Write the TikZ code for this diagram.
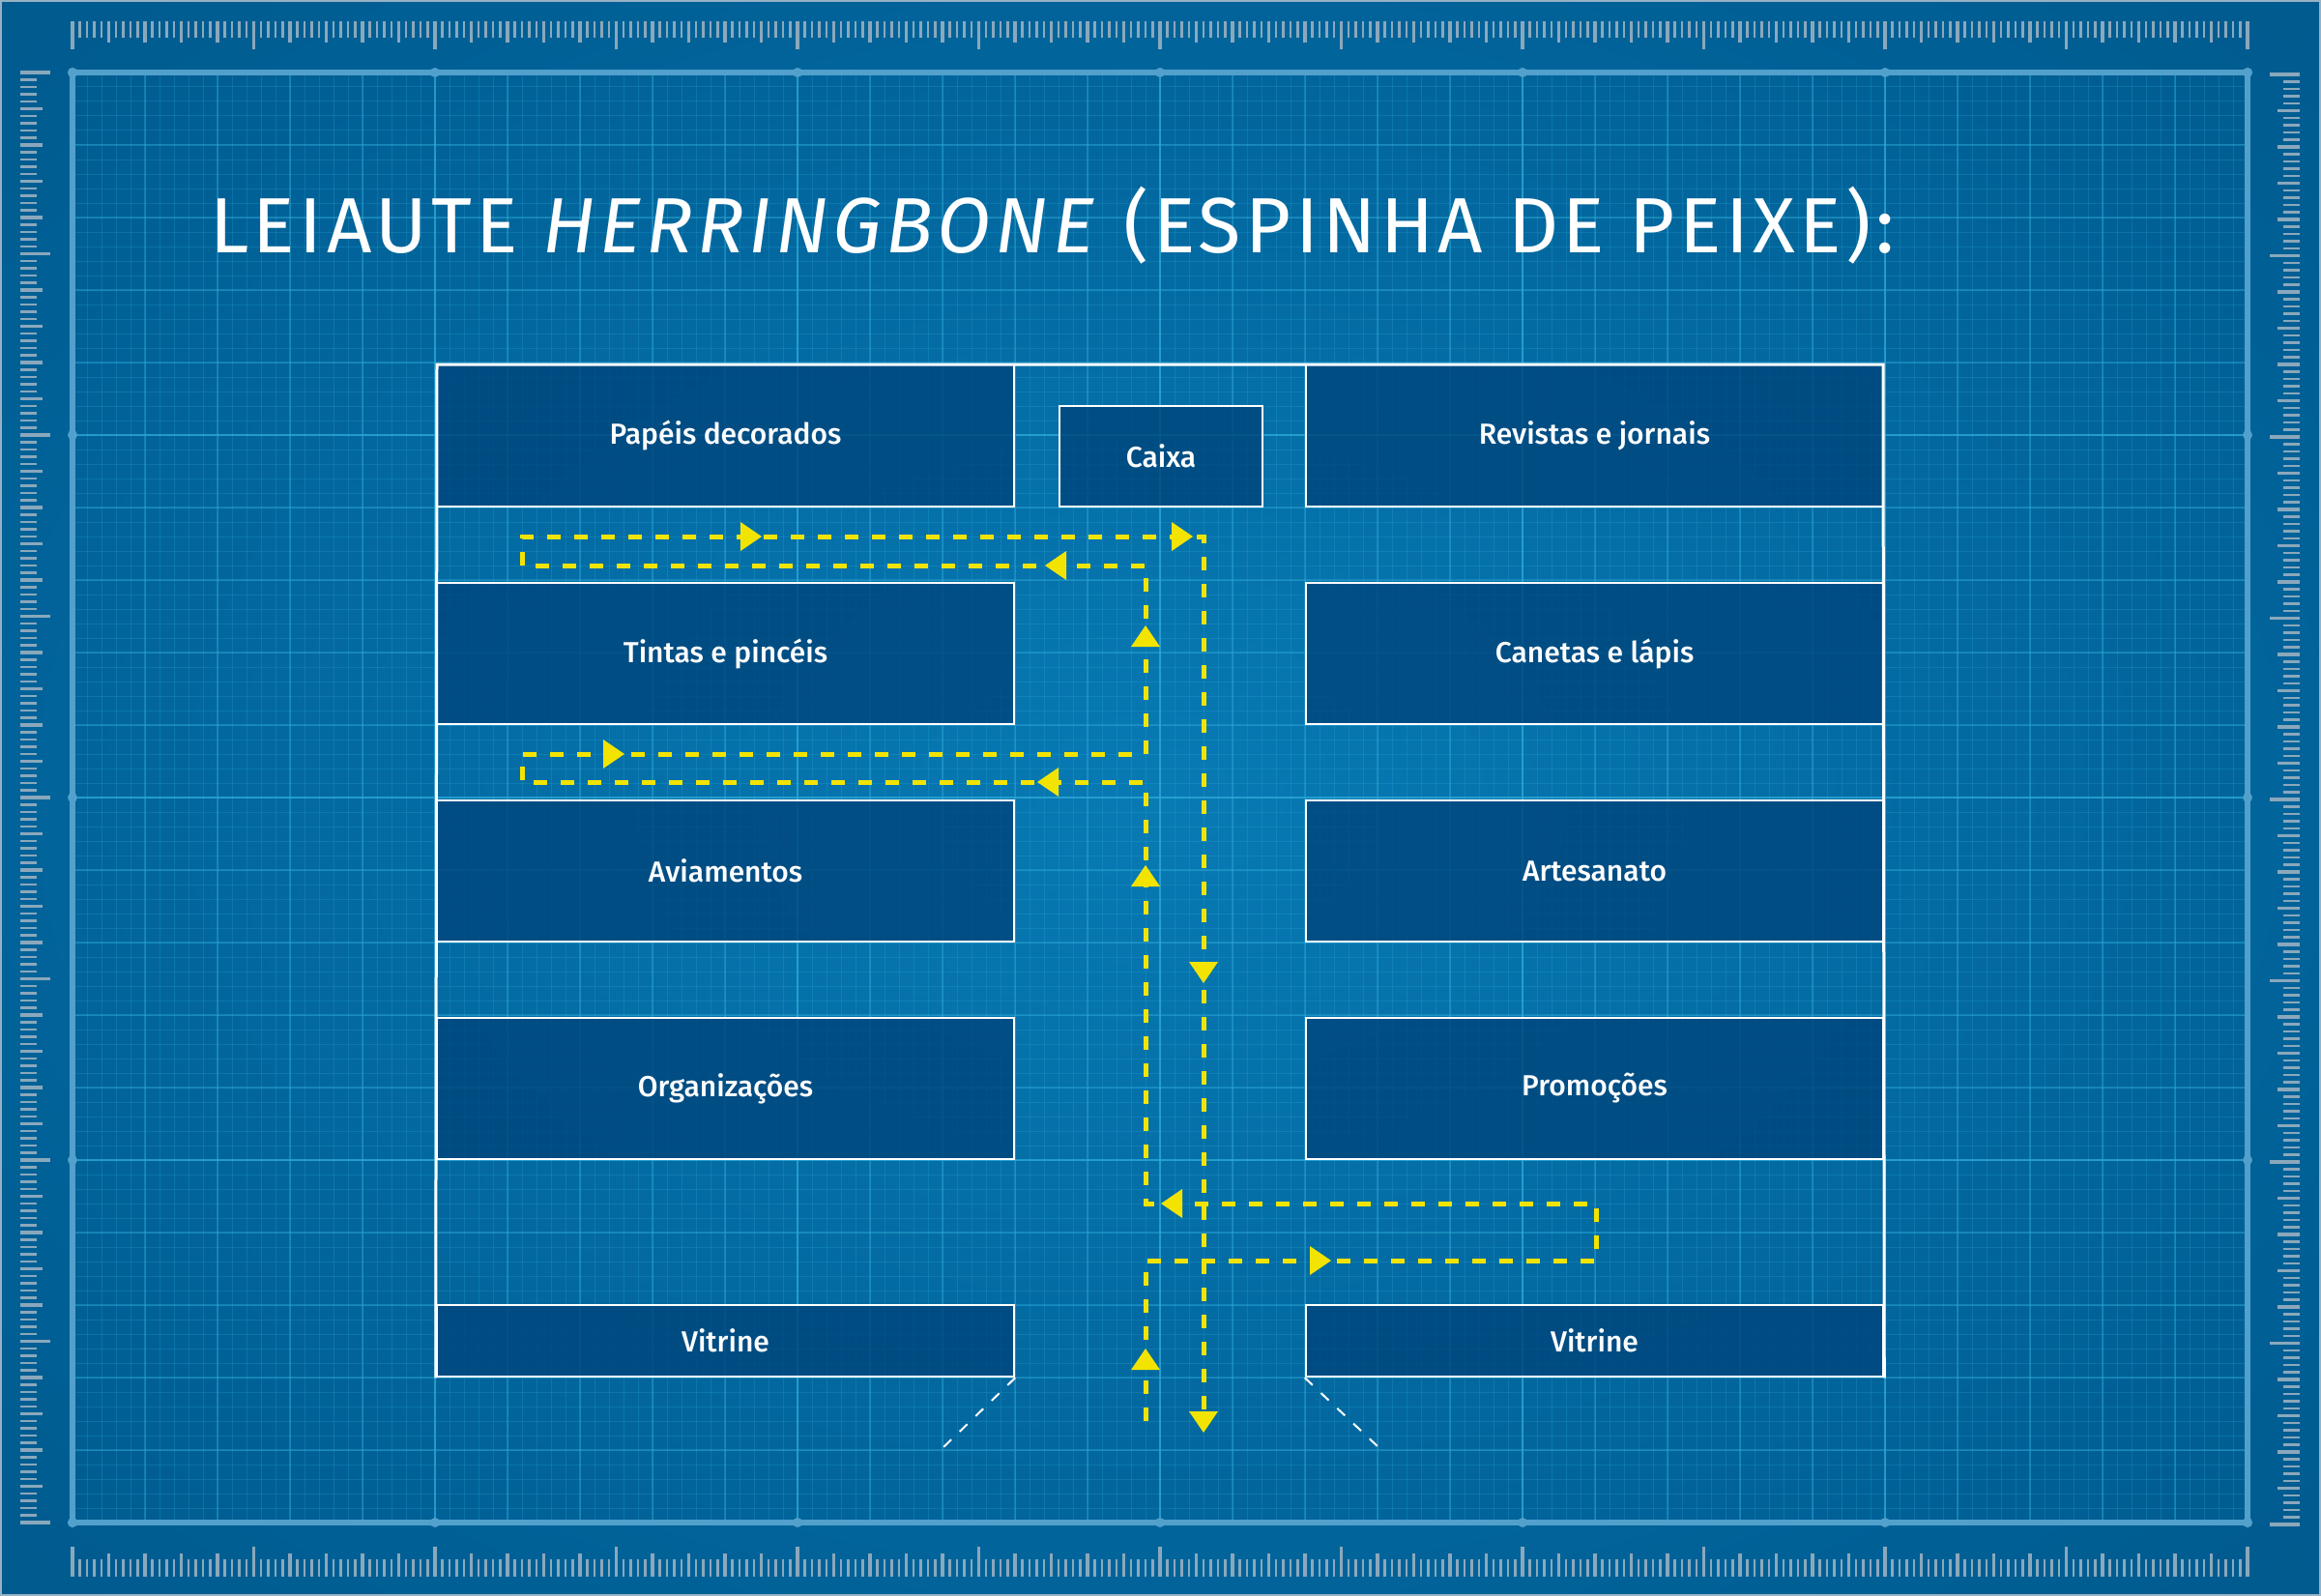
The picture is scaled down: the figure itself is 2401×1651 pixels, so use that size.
\documentclass[tikz,border=0pt]{standalone}
\usepackage{fontspec}
\IfFontExistsTF{Fira Sans Book}{\newfontfamily\titlefont{Fira Sans Book}[LetterSpace=5.5]}{%
  \newfontfamily\titlefont{Fira Sans}[LetterSpace=5.5]}
\IfFontExistsTF{Fira Sans Medium}{\newfontfamily\labelfont{Fira Sans Medium}}{%
  \newfontfamily\labelfont{Fira Sans}}
\definecolor{bgin}{RGB}{8,122,180}
\definecolor{bgmid}{RGB}{0,96,150}
\definecolor{bgout}{RGB}{0,62,100}
\definecolor{gridc}{RGB}{45,170,215}
\definecolor{framec}{RGB}{82,160,204}
\definecolor{rulerc}{RGB}{138,168,188}
\definecolor{boxfill}{RGB}{0,70,124}
\definecolor{pathy}{RGB}{242,228,0}
\definecolor{edgec}{RGB}{150,178,196}
\pgfdeclareradialshading{bgshade}{\pgfpoint{0bp}{0bp}}{color(0bp)=(bgin); color(28bp)=(bgmid); color(72bp)=(bgout)}
\tikzset{
  minorgrid/.style={draw=gridc, line width=1, opacity=0.25},
  midgrid/.style={draw=gridc, line width=1.5, opacity=0.4},
  majorgrid/.style={draw=gridc, line width=2, opacity=0.6},
  tickc/.style={draw=rulerc},
  shelf/.style={draw=white, line width=2.5, fill=boxfill, fill opacity=0.82, text opacity=1,
    text=white, font=\labelfont\fontsize{30}{36}\selectfont, inner sep=0},
  wall/.style={draw=white, line width=3},
  flow/.style={draw=pathy, line width=5, dash pattern=on 14 off 14},
  door/.style={draw=white, line width=2, dash pattern=on 11 off 12},
  arR/.pic={\fill[pathy] (0,0) -- (-22,-15) -- (-22,15) -- cycle;},
  arL/.pic={\fill[pathy] (0,0) -- (22,-15) -- (22,15) -- cycle;},
  arU/.pic={\fill[pathy] (0,0) -- (-15,22) -- (15,22) -- cycle;},
  arD/.pic={\fill[pathy] (0,0) -- (-15,-22) -- (15,-22) -- cycle;},
}
\begin{document}
\begin{tikzpicture}[x=1pt,y=-1pt]
\useasboundingbox (0,0) rectangle (2401,1651);
% background
\shade[shading=bgshade] (0,0) rectangle (2401,1651);
\draw[edgec, line width=2] (1,1) rectangle (2400,1650);
% grid
\begin{scope}
\clip (75,75) rectangle (2325,1575);
\foreach \x in {75,90,...,2325} \draw[minorgrid] (\x,75) -- (\x,1575);
\foreach \y in {75,90,...,1575} \draw[minorgrid] (75,\y) -- (2325,\y);
\foreach \x in {75,150,...,2325} \draw[midgrid] (\x,75) -- (\x,1575);
\foreach \y in {75,150,...,1575} \draw[midgrid] (75,\y) -- (2325,\y);
\foreach \x in {75,450,...,2325} \draw[majorgrid] (\x,75) -- (\x,1575);
\foreach \y in {75,450,...,1575} \draw[majorgrid] (75,\y) -- (2325,\y);
\end{scope}
% frame
\draw[framec, line width=5.5] (75,75) rectangle (2325,1575);
\foreach \x in {75,450,...,2325} {\fill[framec] (\x,75) circle (5); \fill[framec] (\x,1575) circle (5);}
\foreach \y in {75,450,...,1575} {\fill[framec] (75,\y) circle (5); \fill[framec] (2325,\y) circle (5);}
% rulers top / bottom
\foreach \k in {0,...,300} {
  \pgfmathsetmacro\xx{75+7.5*\k}
  \draw[tickc, line width=2.2] (\xx,22) -- (\xx,39);
  \draw[tickc, line width=2.2] (\xx,1631) -- (\xx,1613);
}
\foreach \k in {0,5,...,300} {
  \pgfmathsetmacro\xx{75+7.5*\k}
  \draw[tickc, line width=3.8] (\xx,22) -- (\xx,44);
  \draw[tickc, line width=3.8] (\xx,1631) -- (\xx,1607);
}
\foreach \k in {0,25,...,300} {
  \pgfmathsetmacro\xx{75+7.5*\k}
  \draw[tickc, line width=3.8] (\xx,22) -- (\xx,51);
  \draw[tickc, line width=3.8] (\xx,1631) -- (\xx,1600);
}
% rulers left / right
\foreach \k in {0,...,200} {
  \pgfmathsetmacro\yy{75+7.5*\k}
  \pgfmathsetmacro\yr{77+7.5*\k}
  \draw[tickc, line width=2.2] (21,\yy) -- (38,\yy);
  \draw[tickc, line width=2.2] (2379,\yr) -- (2362,\yr);
}
\foreach \k in {0,5,...,200} {
  \pgfmathsetmacro\yy{75+7.5*\k}
  \pgfmathsetmacro\yr{77+7.5*\k}
  \draw[tickc, line width=3.8] (21,\yy) -- (44,\yy);
  \draw[tickc, line width=3.8] (2379,\yr) -- (2356,\yr);
}
\foreach \k in {0,25,...,200} {
  \pgfmathsetmacro\yy{75+7.5*\k}
  \pgfmathsetmacro\yr{77+7.5*\k}
  \draw[tickc, line width=3.8] (21,\yy) -- (52,\yy);
  \draw[tickc, line width=3.8] (2379,\yr) -- (2348,\yr);
}
% title
\node[anchor=base west, inner sep=0, text=white, font=\titlefont\fontsize{81}{90}\selectfont] (title) at (217,261)
  {LEIAUTE \textit{HERRINGBONE} (ESPINHA DE PEIXE):};
% shelves
\node[shelf, minimum width=597, minimum height=147] (pap) at (750.5,450.5) {Papéis decorados};
\node[shelf, minimum width=597, minimum height=147] (rev) at (1649.5,450.5) {Revistas e jornais};
\node[shelf, minimum width=210, minimum height=104] (cai) at (1201,472) {Caixa};
\node[shelf, minimum width=597, minimum height=146] (tin) at (750.5,676) {Tintas e pincéis};
\node[shelf, minimum width=597, minimum height=146] (can) at (1649.5,676) {Canetas e lápis};
\node[shelf, minimum width=597, minimum height=146] (avi) at (750.5,901) {Aviamentos};
\node[shelf, minimum width=597, minimum height=146] (art) at (1649.5,901) {Artesanato};
\node[shelf, minimum width=597, minimum height=146] (org) at (750.5,1126) {Organizações};
\node[shelf, minimum width=597, minimum height=146] (pro) at (1649.5,1126) {Promoções};
\node[shelf, minimum width=597, minimum height=74] (vitl) at (750.5,1387) {Vitrine};
\node[shelf, minimum width=597, minimum height=74] (vitr) at (1649.5,1387) {Vitrine};
% walls
\draw[wall] (vitl.south west) -- (452,377) -- (1948,377) -- (vitr.south east);
% doors
\coordinate (dl) at (975,1498);
\coordinate (dr) at (1427,1498);
\draw[door] (vitl.south east) -- (dl);
\draw[door] (vitr.south west) -- (dr);
% flow path
\coordinate (p0) at (1185,1470);
\coordinate (p1) at (1185,1304);
\coordinate (p2) at (1651,1304);
\coordinate (p3) at (1651,1245);
\coordinate (p4) at (1185,1245);
\coordinate (p5) at (1185,809);
\coordinate (p6) at (540,809);
\coordinate (p7) at (540,780);
\coordinate (p8) at (1185,780);
\coordinate (p9) at (1185,585);
\coordinate (p10) at (540,585);
\coordinate (p11) at (540,555);
\coordinate (p12) at (1245,555);
\coordinate (p13) at (1245,1462);
\draw[flow] (p0) -- (p1) -- (p2) -- (p3) -- (p4) -- (p5) -- (p6) -- (p7) -- (p8) -- (p9) -- (p10) -- (p11) -- (p12) -- (p13);
% arrowheads
\pic at (1185,1395) {arU};
\pic at (1377,1304) {arR};
\pic at (1201,1245) {arL};
\pic at (1185,895) {arU};
\pic at (1073,809) {arL};
\pic at (646,780) {arR};
\pic at (1185,647) {arU};
\pic at (1081,585) {arL};
\pic at (788,555) {arR};
\pic at (1234,555) {arR};
\pic at (1245,1017) {arD};
\pic at (1245,1482) {arD};
\end{tikzpicture}
\end{document}
